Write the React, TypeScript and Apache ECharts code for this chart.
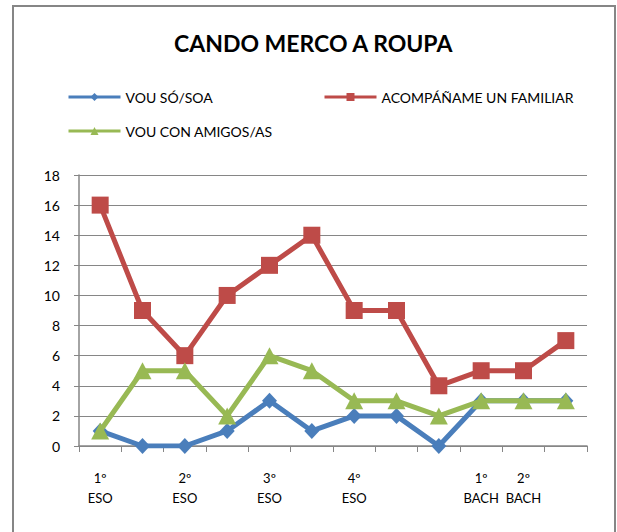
import React, { useEffect, useRef } from "react";
import * as echarts from "echarts";

const categories = [
  "1º\nESO", "", "2º\nESO", "", "3º\nESO", "", "4º\nESO", "", "", "1º\nBACH", "2º\nBACH", "",
];
const seriesNames = ["VOU SÓ/SOA", "ACOMPÁÑAME UN FAMILIAR", "VOU CON AMIGOS/AS"];
const vouSo = [1, 0, 0, 1, 3, 1, 2, 2, 0, 3, 3, 3];
const familiar = [16, 9, 6, 10, 12, 14, 9, 9, 4, 5, 5, 7];
const amigos = [1, 5, 5, 2, 6, 5, 3, 3, 2, 3, 3, 3];
const yTicks = { min: 0, max: 18, interval: 2 };

const FONT = "Lato, 'Open Sans', sans-serif";
const AXIS_GRAY = "#868686";

export default function App() {
  const ref = useRef<HTMLDivElement>(null);
  useEffect(() => {
    if (!ref.current) return;
    const chart = echarts.init(ref.current, undefined, { renderer: "svg" });
    const legendBase = {
      itemWidth: 52,
      itemHeight: 10,
      itemGap: 6,
      textStyle: { fontFamily: FONT, fontSize: 14, color: "#000" },
      lineStyle: { width: 3 },
      padding: 0,
    };
    chart.setOption({
      animation: false,
      backgroundColor: "#fff",
      textStyle: { fontFamily: FONT },
      title: {
        text: "CANDO MERCO A ROUPA",
        left: 174,
        top: 31,
        padding: 0,
        textStyle: { fontFamily: FONT, fontSize: 23, fontWeight: "bold", color: "#000" },
      },
      graphic: [
        {
          type: "rect",
          shape: { x: 13, y: 6, width: 602, height: 540 },
          style: { fill: "none", stroke: AXIS_GRAY, lineWidth: 2 },
          silent: true,
        },
      ],
      legend: [
        { ...legendBase, data: [seriesNames[0]], left: 67, top: 90 },
        { ...legendBase, data: [seriesNames[1]], left: 323, top: 90 },
        { ...legendBase, data: [seriesNames[2]], left: 67, top: 124 },
      ],
      grid: { left: 79, right: 30, top: 175, bottom: 86, containLabel: false },
      xAxis: {
        type: "category",
        data: categories,
        boundaryGap: true,
        axisLine: { lineStyle: { color: AXIS_GRAY, width: 1.5 } },
        axisTick: { show: true, length: 6, interval: 0, lineStyle: { color: AXIS_GRAY } },
        axisLabel: {
          interval: 0,
          margin: 22,
          fontSize: 13,
          lineHeight: 20,
          color: "#000",
          fontFamily: FONT,
        },
      },
      yAxis: {
        type: "value",
        min: yTicks.min,
        max: yTicks.max,
        interval: yTicks.interval,
        axisLine: { show: true, lineStyle: { color: AXIS_GRAY, width: 1.5 } },
        axisTick: { show: true, length: 5, lineStyle: { color: AXIS_GRAY } },
        splitLine: { lineStyle: { color: AXIS_GRAY, width: 1.2 } },
        axisLabel: { margin: 19, fontSize: 14, color: "#000", fontFamily: FONT },
      },
      series: [
        {
          name: seriesNames[0],
          type: "line",
          data: vouSo,
          symbol: "diamond",
          symbolSize: [15, 16],
          lineStyle: { width: 5, color: "#4A7EBB" },
          itemStyle: { color: "#4A7EBB" },
          z: 3,
        },
        {
          name: seriesNames[1],
          type: "line",
          data: familiar,
          symbol: "rect",
          symbolSize: 17,
          lineStyle: { width: 5, color: "#BE4B48" },
          itemStyle: { color: "#BE4B48" },
          z: 4,
        },
        {
          name: seriesNames[2],
          type: "line",
          data: amigos,
          symbol: "triangle",
          symbolSize: [18, 17],
          lineStyle: { width: 5, color: "#98B954" },
          itemStyle: { color: "#98B954" },
          z: 5,
        },
      ],
    });
    return () => chart.dispose();
  }, []);
  return (
    <div
      ref={ref}
      style={{ position: "fixed", left: 0, top: 0, width: 617, height: 532 }}
    />
  );
}
